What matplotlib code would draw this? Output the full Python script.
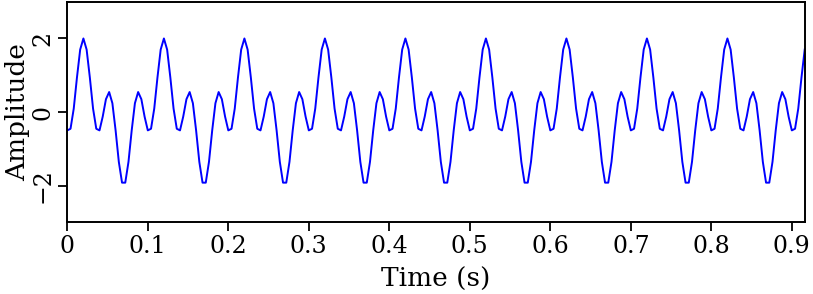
import numpy as np
import matplotlib
matplotlib.use("Agg")
import matplotlib.pyplot as plt

period_amp = [-0.500, -0.456, 0.092, 0.939, 1.698, 2.000, 1.698, 0.939, 0.092,
              -0.456, -0.500, -0.125, 0.348, 0.543, 0.239, -0.500, -1.356,
              -1.922, -1.922, -1.356, -0.500, 0.239, 0.543, 0.348, -0.125]
dt = 0.004
n_samples = 230

x_ticks = [0, 0.1, 0.2, 0.3, 0.4, 0.5, 0.6, 0.7, 0.8, 0.9]
x_ticklabels = ["0", "0.1", "0.2", "0.3", "0.4", "0.5", "0.6", "0.7", "0.8", "0.9"]
y_ticks = [-2, 0, 2]
y_ticklabels = ["\u22122", "0", "2"]

amp = np.resize(np.array(period_amp), n_samples)
t = np.arange(n_samples) * dt

plt.rcParams["font.family"] = ["DejaVu Serif"]
fig = plt.figure(figsize=(8.13, 2.94), dpi=100)
ax = fig.add_axes([67.3 / 813, (294 - 222.3) / 294, (804.7 - 67.3) / 813, (222.3 - 1.7) / 294])
ax.plot(t, amp, color="#0000ff", lw=1.4)
ax.set_xlim(0, t[-1])
ax.set_ylim(-3, 3)

ax.set_xticks(x_ticks)
ax.set_xticklabels(x_ticklabels)
ax.set_yticks(y_ticks)
ax.set_yticklabels(y_ticklabels, rotation=90, va="center")
ax.tick_params(direction="out", length=6.5, width=1.3, labelsize=17, pad=3)
for s in ax.spines.values():
    s.set_linewidth(1.4)
ax.set_xlabel("Time (s)", fontsize=19, labelpad=6)
ax.set_ylabel("Amplitude", fontsize=19, labelpad=1)

fig.savefig("out.png", dpi=100)
